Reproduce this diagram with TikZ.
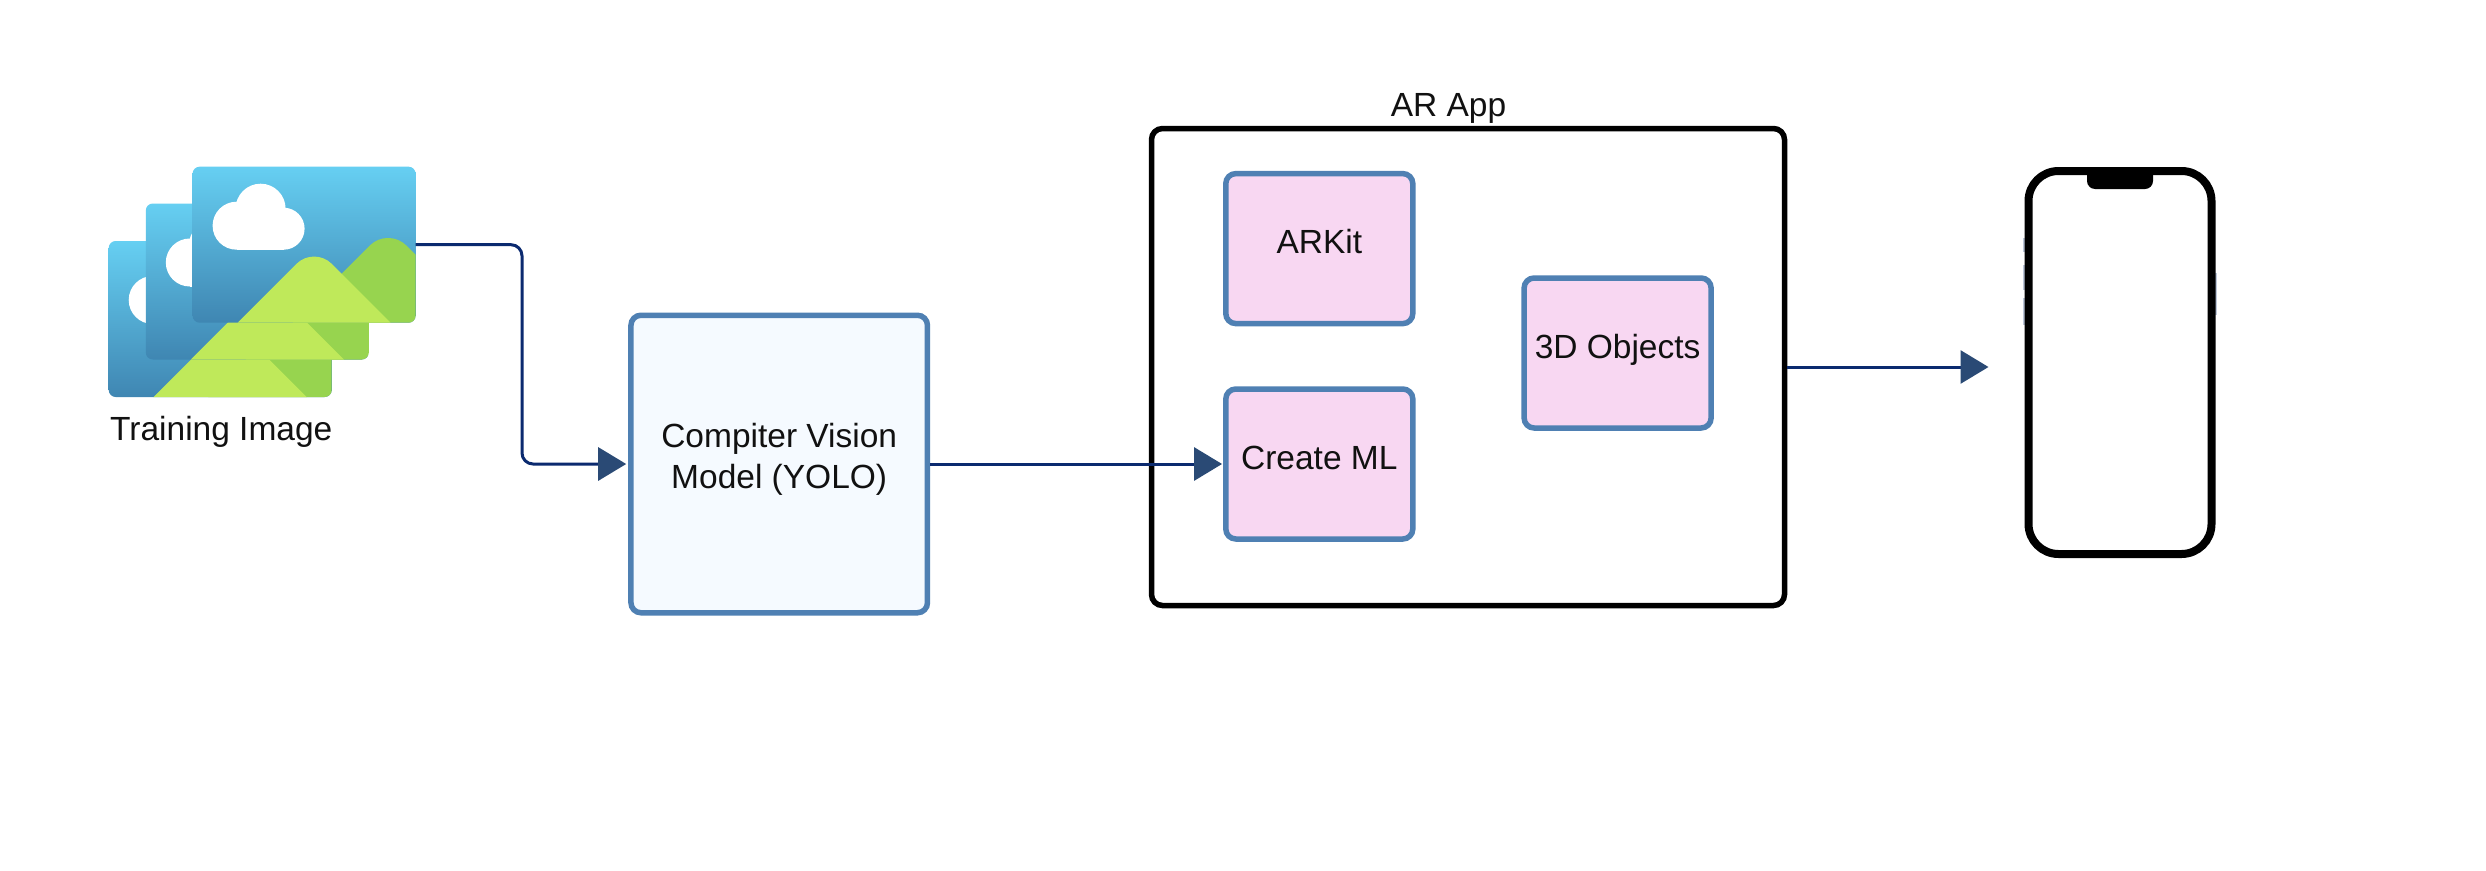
\documentclass[tikz,border=0pt]{standalone}
\usepackage{fontspec}
\setmainfont{Liberation Sans}
\usetikzlibrary{arrows.meta}
\definecolor{linecol}{HTML}{0B2A6F}
\definecolor{tipcol}{HTML}{2A4A75}
\definecolor{boxedge}{HTML}{4F80B3}
\definecolor{cvfill}{HTML}{F5FAFF}
\definecolor{pinkfill}{HTML}{F8D7F2}
\definecolor{skytop}{HTML}{66CFF2}
\definecolor{skybot}{HTML}{3F86B2}
\definecolor{hillback}{HTML}{97D44F}
\definecolor{hillfront}{HTML}{BFE95A}
\definecolor{btncol}{HTML}{BCC6D8}
\definecolor{inkcol}{HTML}{111111}
\newcommand{\photo}[1]{%
  \begin{scope}[shift={(#1.north west)}]
    \begin{scope}
      \clip[rounded corners=7pt] (0,0) rectangle (223,156);
      \shade[top color=skytop,bottom color=skybot] (0,0) rectangle (223,156);
      \fill[white] (44,59) circle[radius=24];
      \fill[white] (68,42) circle[radius=25];
      \fill[white] (91,62) circle[radius=21];
      \fill[white] (44,60) rectangle (91,83);
      \fill[hillback,rounded corners=26pt] (80,176) -- (195.5,60.5) -- (311,176) -- cycle;
      \fill[hillfront,rounded corners=25pt] (21,180) -- (121.5,79.5) -- (222,180) -- cycle;
    \end{scope}
  \end{scope}}
\tikzset{
  every node/.style={font=\fontsize{33.5}{41}\selectfont,text=inkcol,align=center},
  photobox/.style={minimum width=223pt,minimum height=156pt,inner sep=0pt,outer sep=0pt},
  cvbox/.style={draw=boxedge,fill=cvfill,line width=5.5pt,rounded corners=10pt,minimum width=296.5pt,minimum height=297.5pt,inner sep=0pt,text depth=16.5pt},
  pinkbox/.style={draw=boxedge,fill=pinkfill,line width=5.5pt,rounded corners=10pt,minimum width=187pt,minimum height=150pt,inner sep=0pt,text height=15pt,text depth=5pt},
  appbox/.style={draw=black,fill=white,line width=5.5pt,rounded corners=11pt,minimum width=633pt,minimum height=477pt},
  phonebox/.style={draw=black,fill=white,line width=8pt,rounded corners=30pt,minimum width=183pt,minimum height=383pt},
  flow/.style={draw=linecol,line width=3pt,-{Triangle[length=28pt,width=33pt,color=tipcol]}},
  caption/.style={anchor=base,inner sep=0pt}
}
\begin{document}
\begin{tikzpicture}[x=1pt,y=-1pt]
\useasboundingbox (0,0) rectangle (2486,870);
\fill[white] (0,0) rectangle (2486,870);

% image stack
\node[photobox] (img1) at (220.2,319) {};
\node[photobox] (img2) at (257.3,281.5) {};
\node[photobox] (img3) at (304.1,244.7) {};
\photo{img1}
\photo{img2}
\photo{img3}
\node[caption,anchor=base west] (trainlabel) at (110,440) {Training Image};

% model
\node[cvbox] (cv) at (779.2,464) {Compiter Vision\\Model (YOLO)};

% AR app
\node[appbox] (app) at (1468,367) {};
\node[caption] (applabel) at (1448.5,116) {AR App};
\node[pinkbox] (arkit) at (1319.3,248.6) {ARKit};
\node[pinkbox] (createml) at (1319.3,464) {Create ML};
\node[pinkbox] (objects) at (1617.6,353) {3D Objects};

% phone
\fill[btncol] (2022.5,238) rectangle (2026,252);
\fill[btncol] (2022.5,265) rectangle (2026,290);
\fill[btncol] (2022.5,298) rectangle (2026,325);
\fill[btncol] (2213,273) rectangle (2217,315);
\node[phonebox] (phone) at (2120,362.5) {};
\begin{scope}[shift={(phone.north)}]
  \fill[black,rounded corners=8pt] (-33,0) -- (-33,22) -- (33,22) -- (33,0) -- cycle;
\end{scope}

% connectors
\coordinate (bend) at (522,464);
\draw[flow,rounded corners=11pt,shorten >=2pt] (img3.east) -| (bend) -- (cv.west);
\draw[flow,shorten >=1pt] (cv.east) -- (createml.west);
\draw[flow,shorten >=36pt] (app.east) -- (app.east -| phone.west);
\end{tikzpicture}
\end{document}
